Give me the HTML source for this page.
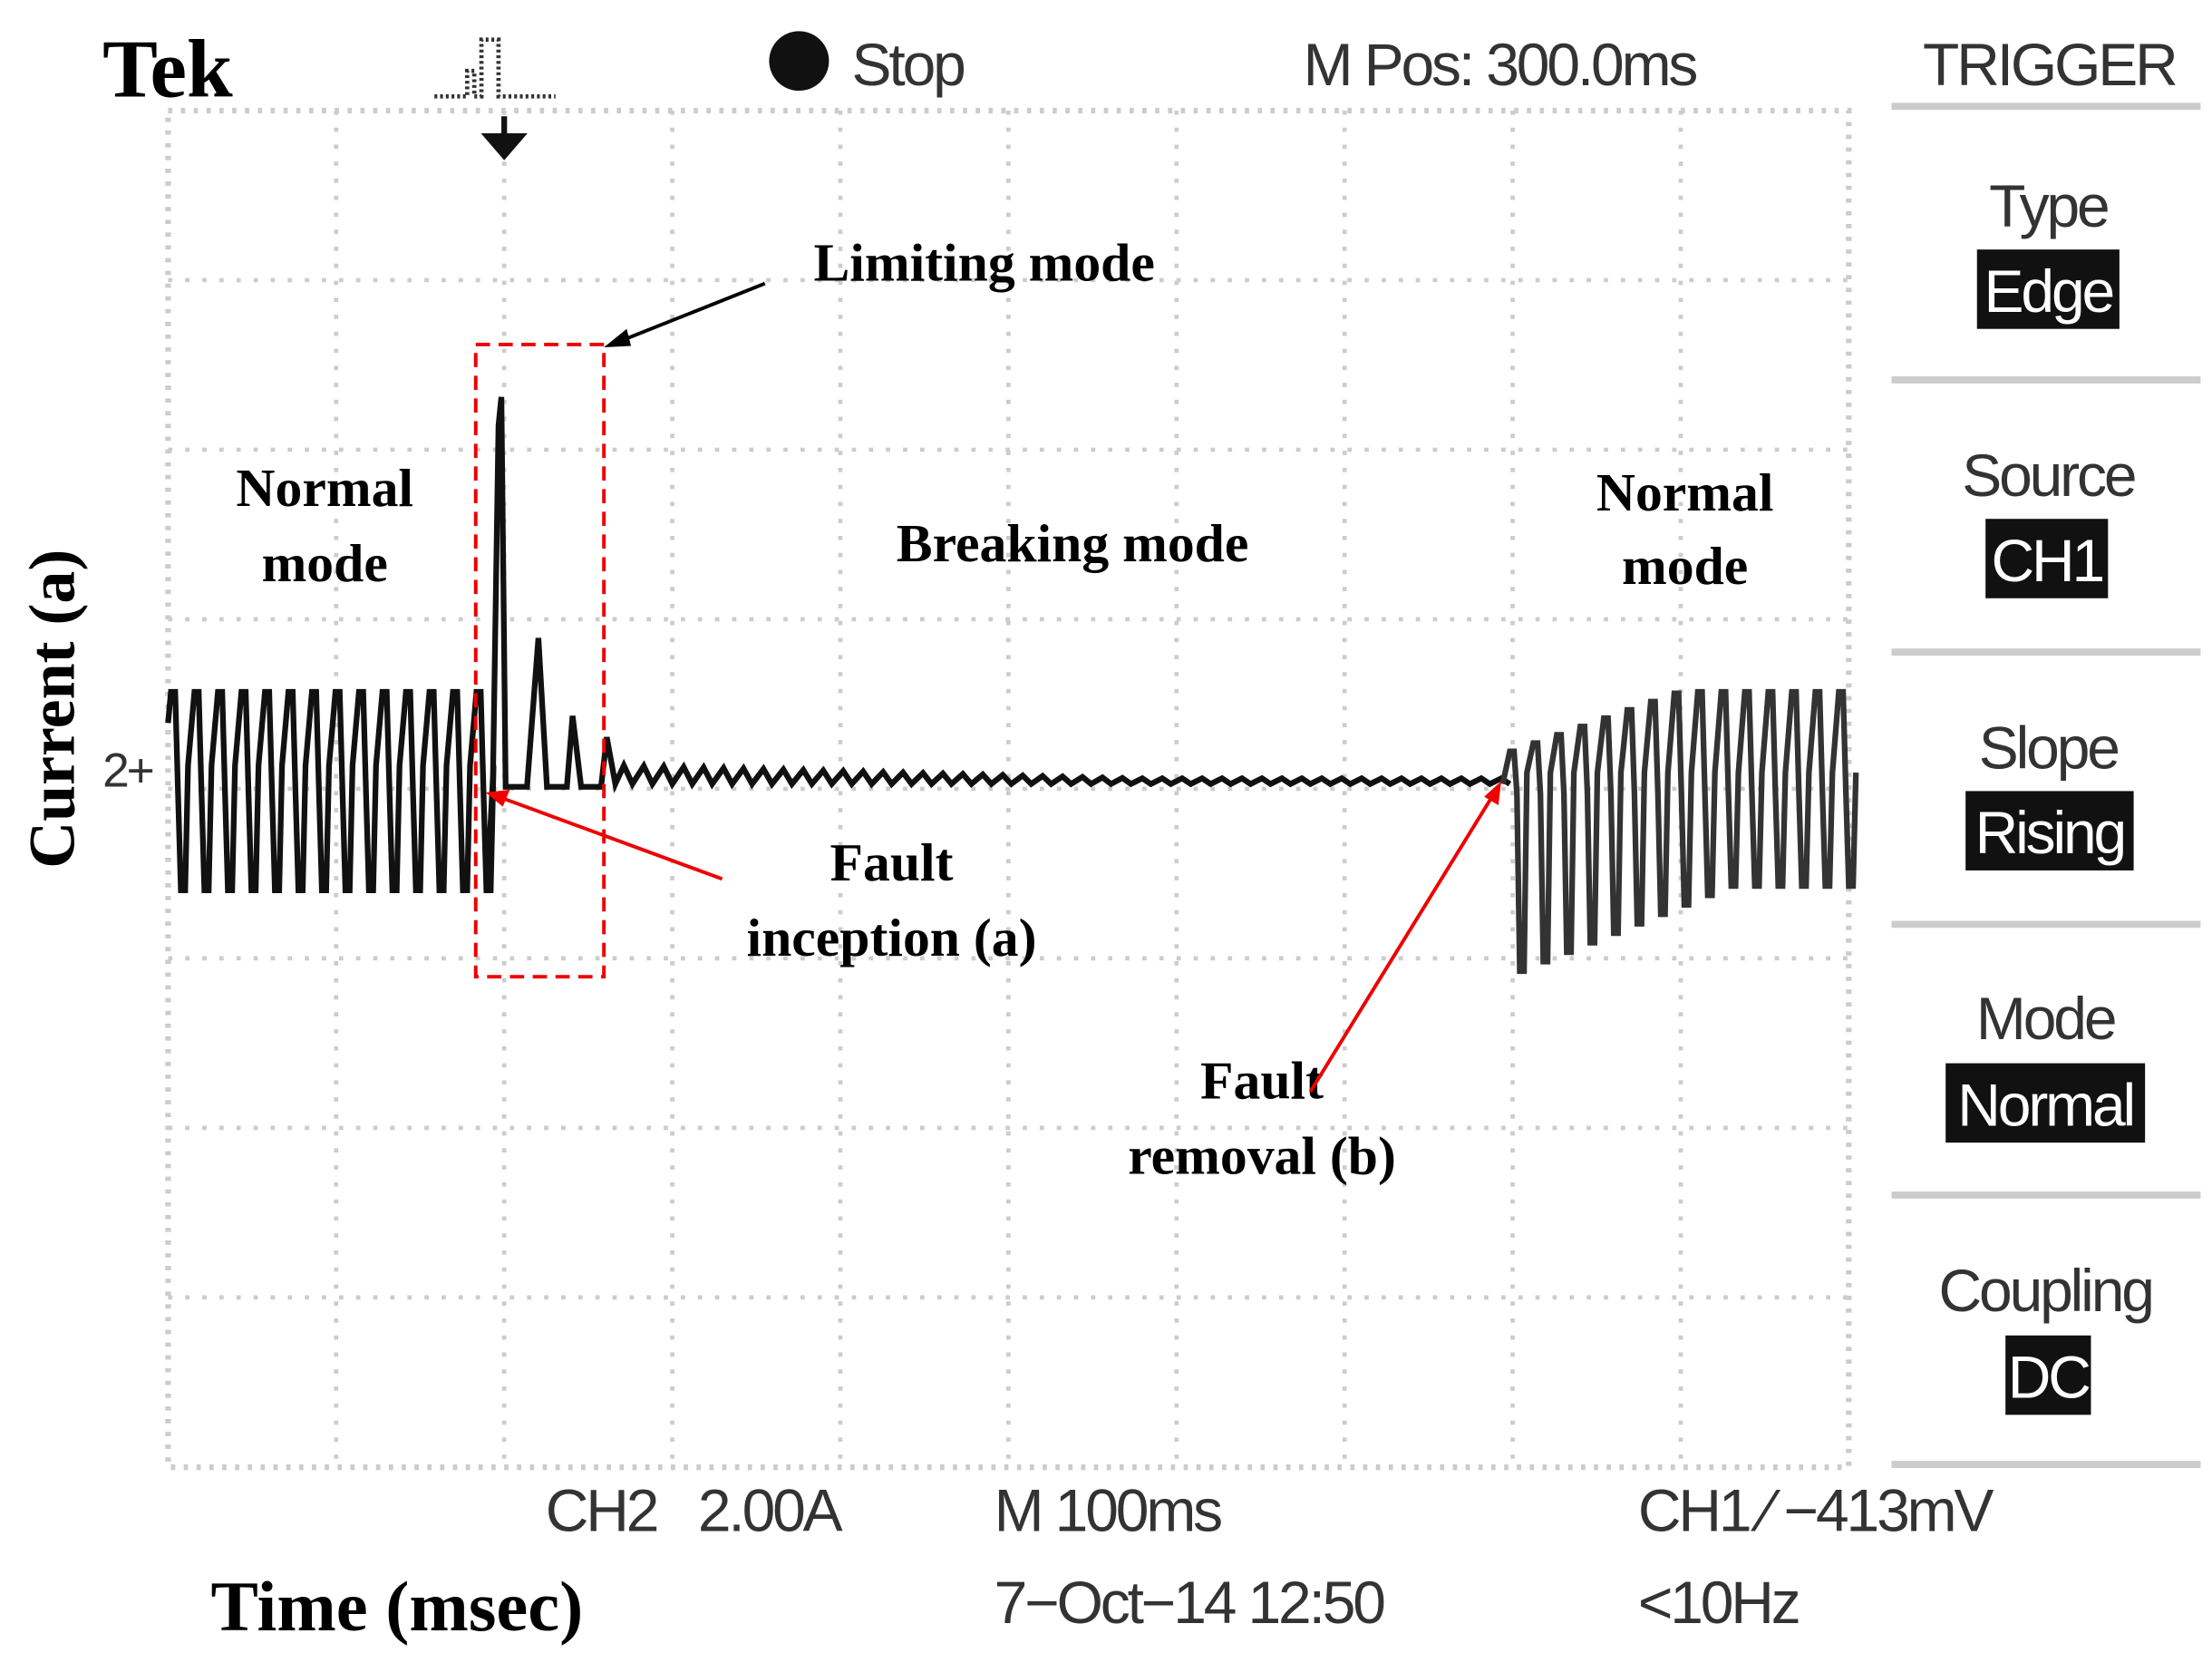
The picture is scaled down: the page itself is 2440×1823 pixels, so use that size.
<!DOCTYPE html>
<html><head><meta charset="utf-8"><style>
html,body{margin:0;padding:0;background:#fff;}
svg{display:block;}
.sc{font-family:"Liberation Sans",sans-serif;fill:#333;letter-spacing:-2px;}
.an{font-family:"Liberation Serif",serif;font-weight:bold;fill:#000;}
</style></head><body>
<svg id="s" width="2440" height="1823" viewBox="0 0 1553 1166" preserveAspectRatio="none" xmlns="http://www.w3.org/2000/svg">
<rect x="0" y="0" width="1553" height="1166" fill="#fff"/>
<g id="grid"></g>
<rect x="118" y="78" width="1180" height="957" fill="none" stroke="#ccc" stroke-width="4" stroke-dasharray="3,6"/>
<path id="w1" fill="none" stroke="#111" stroke-width="4"/>
<path id="w2" fill="none" stroke="#333" stroke-width="4"/>
<text x="72" y="68" class="an" font-size="58">Tek</text>
<path d="M305 68 H328 V50 H333 V68 H338 V28 H350 V68 H390" fill="none" stroke="#333" stroke-width="3" stroke-dasharray="2,2"/>
<path d="M354 82 V100 M342 96 L354 110 L366 96 Z" stroke="#111" stroke-width="4" fill="#111"/>
<circle cx="561" cy="43" r="21" fill="#111"/>
<text x="598" y="60" class="sc" font-size="42">Stop</text>
<text x="915" y="60" class="sc" font-size="42">M Pos: 300.0ms</text>
<text x="1350" y="60" class="sc" font-size="42">TRIGGER</text>
<g stroke="#ccc" stroke-width="5">
<line x1="1328" y1="75" x2="1545" y2="75"/><line x1="1328" y1="268" x2="1545" y2="268"/>
<line x1="1328" y1="460" x2="1545" y2="460"/><line x1="1328" y1="652" x2="1545" y2="652"/>
<line x1="1328" y1="843" x2="1545" y2="843"/><line x1="1328" y1="1033" x2="1545" y2="1033"/>
</g>
<g class="sc" font-size="42" text-anchor="middle">
<text x="1438" y="160">Type</text>
<rect x="1388" y="176" width="100" height="56" fill="#111"/><text x="1438" y="220" style="fill:#fff">Edge</text>
<text x="1438" y="350">Source</text>
<rect x="1394" y="366" width="86" height="56" fill="#111"/><text x="1437" y="410" style="fill:#fff">CH1</text>
<text x="1438" y="542">Slope</text>
<rect x="1380" y="558" width="118" height="56" fill="#111"/><text x="1439" y="602" style="fill:#fff">Rising</text>
<text x="1436" y="733">Mode</text>
<rect x="1366" y="750" width="140" height="56" fill="#111"/><text x="1436" y="794" style="fill:#fff">Normal</text>
<text x="1436" y="925">Coupling</text>
<rect x="1408" y="942" width="60" height="56" fill="#111"/><text x="1438" y="986" style="fill:#fff">DC</text>
</g>
<g class="sc" font-size="42">
<text x="383" y="1080">CH2</text><text x="490" y="1080">2.00A</text>
<text x="698" y="1080">M 100ms</text>
<text x="1150" y="1080">CH1 ⁄ −413mV</text>
<text x="698" y="1145">7−Oct−14 12:50</text>
<text x="1150" y="1145">&lt;10Hz</text>
<text x="72" y="555" font-size="34">2+</text>
</g>
<text x="148" y="1150" class="an" font-size="50">Time (msec)</text>
<text transform="translate(52,500) rotate(-90)" class="an" font-size="46" text-anchor="middle">Current (a)</text>
<g class="an" font-size="38" text-anchor="middle">
<text x="228" y="357">Normal</text><text x="228" y="410">mode</text>
<text x="691" y="198">Limiting mode</text>
<text x="753" y="396">Breaking mode</text>
<text x="1183" y="360">Normal</text><text x="1183" y="412">mode</text>
<text x="626" y="621">Fault</text><text x="626" y="674">inception (a)</text>
<text x="886" y="775">Fault</text><text x="886" y="828">removal (b)</text>
</g>
<rect x="334" y="243" width="90" height="446" fill="none" stroke="#e00" stroke-width="2.5" stroke-dasharray="10,6"/>
<line x1="537" y1="200" x2="432" y2="242" stroke="#000" stroke-width="2.5"/>
<path d="M424 245 L440 232 L443 244 Z" fill="#000"/>
<line x1="507" y1="620" x2="350" y2="562" stroke="#e00" stroke-width="2.5"/>
<path d="M341 559 L358 557 L353 569 Z" fill="#e00"/>
<line x1="920" y1="770" x2="1050" y2="558" stroke="#e00" stroke-width="2.5"/>
<path d="M1054 551 L1052 568 L1042 562 Z" fill="#e00"/>
</svg>
<script>
var g=document.getElementById('grid'),h='';
for(var i=1;i<10;i++){var x=118+118*i;h+='<line x1="'+x+'" y1="78" x2="'+x+'" y2="1035" stroke="#ccc" stroke-width="3" stroke-dasharray="3,9"/>';}
for(var j=1;j<8;j++){var y=78+119.6*j;h+='<line x1="118" y1="'+y+'" x2="1298" y2="'+y+'" stroke="#ccc" stroke-width="3" stroke-dasharray="3,9"/>';}
g.innerHTML=h;
var p='M118 510',x=118,P=16.5;
while(x<340){p+=' L'+(x+2)+' 488 L'+(x+5)+' 488 L'+(x+7)+' 560 L'+(x+9)+' 628 L'+(x+12)+' 628 L'+(x+14)+' 540';x+=P;}
p+=' L342 628 L346 555 L350 300 L352 280 L355 555 L370 555 L378 450 L384 555 L398 555 L402 505 L408 555 L422 555 L426 520 L432 553';
x=432;while(x<1055){var a=Math.max(3,12-(x-432)/40);p+=' L'+(x+6)+' '+(552-a)+' L'+(x+12)+' 553';x+=14;}
document.getElementById('w1').setAttribute('d',p);
var q='M1055 553',x=1058;
while(x<1295){var t=(x-1058)/237;var hi=530-42*Math.min(1,t*2);var lo=685-60*Math.min(1,t*1.6);
q+=' L'+(x+2)+' '+hi+' L'+(x+5)+' '+hi+' L'+(x+7)+' 560 L'+(x+9)+' '+lo+' L'+(x+12)+' '+lo+' L'+(x+14)+' 545';x+=P;}
document.getElementById('w2').setAttribute('d',q);
</script>
</body></html>
